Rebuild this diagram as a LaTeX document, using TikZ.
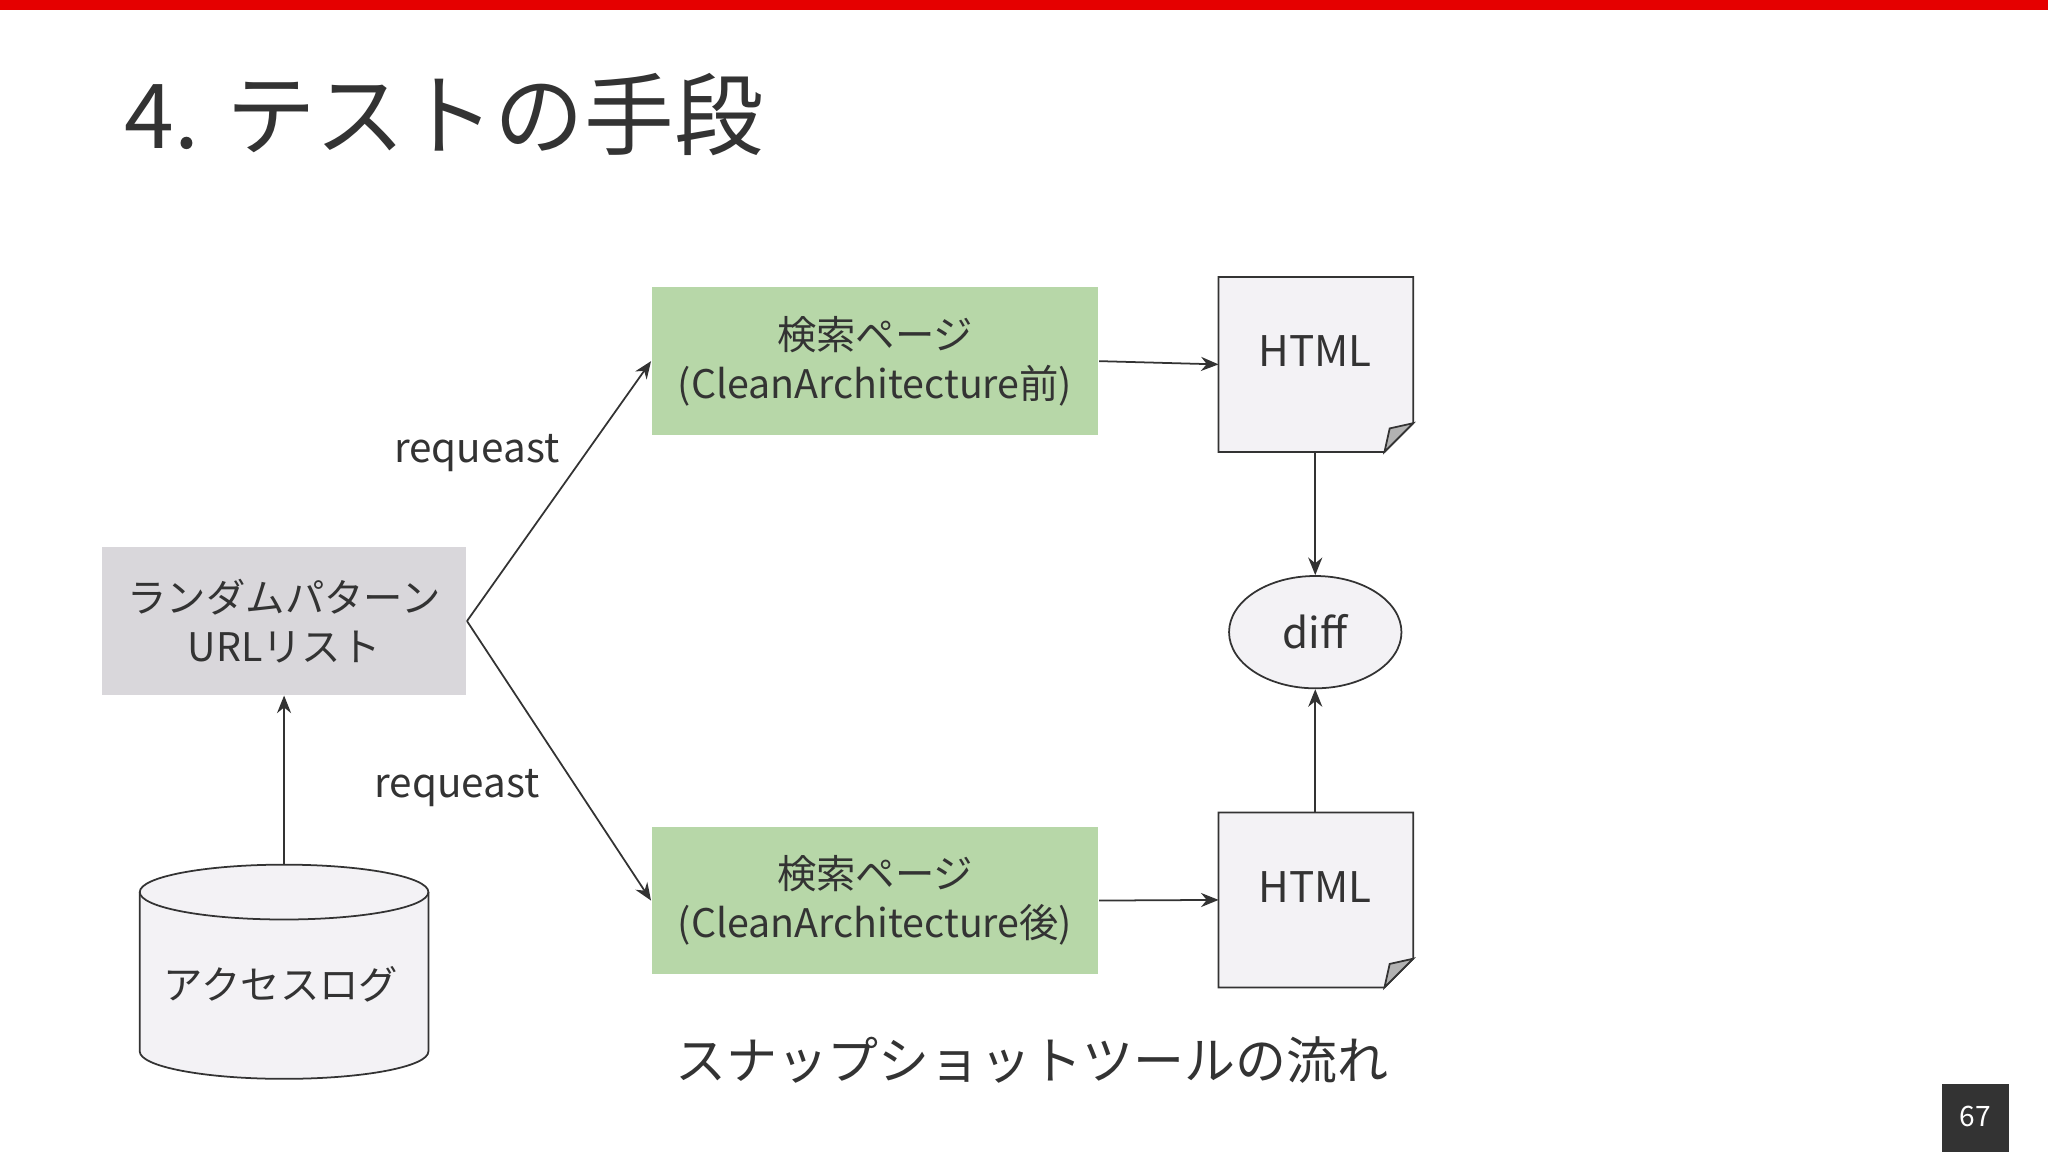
\documentclass[tikz,border=0pt]{standalone}
\usepackage{fontspec}
\setmainfont{Noto Sans CJK JP}
\usetikzlibrary{shapes.geometric,arrows.meta}
\definecolor{tx}{HTML}{333333}
\definecolor{grn}{HTML}{B7D7A8}
\definecolor{gry}{HTML}{D9D7DB}
\definecolor{doc}{HTML}{F3F2F5}
\tikzset{
 box/.style={draw=none,minimum width=342*0.013061cm,minimum height=113*0.013061cm,align=center,text=tx,font=\fontsize{11.2}{14}\selectfont},
 arr/.style={draw=tx,line width=0.5pt,-{Stealth[length=5pt,width=4pt]}},
 lbl/.style={text=tx,font=\fontsize{11.5}{14}\selectfont}
}
\begin{document}
\begin{tikzpicture}[x=0.013061cm,y=-0.013061cm]
\useasboundingbox (0,0) rectangle (1568,882);
\fill[white] (0,0) rectangle (1568,882);
\fill[red!90!black] (0,0) rectangle (1568,8);
\node[anchor=west,text=tx,font=\fontsize{25.5}{30}\selectfont] (title) at (86,88) {4. テストの手段};
\node[box,fill=gry,minimum width=279*0.013061cm] (url) at (217.5,475.5) {ランダムパターン\\URLリスト};
\node[box,fill=grn] (g1) at (670,276.5) {検索ページ\\(CleanArchitecture前)};
\node[box,fill=grn] (g2) at (670,689.5) {検索ページ\\(CleanArchitecture後)};
\foreach \n/\y in {h1/212,h2/622}{
 \draw[tx,line width=0.5pt,fill=doc] (933,\y) -- (1082,\y) -- (1082,\y+112) -- (1060,\y+134) -- (933,\y+134) -- cycle;
 \draw[tx,line width=0.5pt,fill=gray!60] (1082,\y+112) -- (1064,\y+116) -- (1060,\y+134) -- cycle;
}
\node[text=tx,font=\fontsize{12}{14}\selectfont] (t1) at (1007,269) {HTML};
\node[text=tx,font=\fontsize{12}{14}\selectfont] (t2) at (1007,679) {HTML};
\coordinate (h1b) at (1007,346); \coordinate (h1l) at (933,279);
\coordinate (h2t) at (1007,622); \coordinate (h2l) at (933,689);
\node[ellipse,draw=tx,line width=0.5pt,fill=doc,minimum width=132*0.013061cm,minimum height=86*0.013061cm,text=tx,font=\fontsize{12}{14}\selectfont] (diff) at (1007,484) {diff};
\fill[doc] (107,683) -- (107,805) arc[start angle=180,end angle=0,x radius=110.5,y radius=21] -- (328,683) arc[start angle=0,end angle=-180,x radius=110.5,y radius=21] -- cycle;
\draw[tx,line width=0.5pt] (107,683) -- (107,805) arc[start angle=180,end angle=0,x radius=110.5,y radius=21] -- (328,683);
\draw[tx,line width=0.5pt] (217.5,683) ellipse[x radius=110.5,y radius=21];
\coordinate (cyl) at (217.5,662);
\node[text=tx,font=\fontsize{11.2}{14}\selectfont,anchor=west] (log) at (116,754) {アクセスログ};
\draw[arr] (url.east) -- (g1.west);
\draw[arr] (url.east) -- (g2.west);
\draw[arr] (g1.east) -- (h1l);
\draw[arr] (g2.east) -- (h2l);
\draw[arr] (h1b) -- (diff.north);
\draw[arr] (h2t) -- (diff.south);
\draw[arr] (cyl) -- (url.south);
\node[lbl] (r1) at (365,347) {requeast};
\node[lbl] (r2) at (350,603) {requeast};
\node[text=tx,font=\fontsize{14.5}{18}\selectfont] (cap) at (790,812) {スナップショットツールの流れ};
\fill[tx] (1487,830) rectangle (1538,882);
\node[white,font=\fontsize{8}{10}\selectfont] (pg) at (1512.5,855) {67};
\end{tikzpicture}
\end{document}
